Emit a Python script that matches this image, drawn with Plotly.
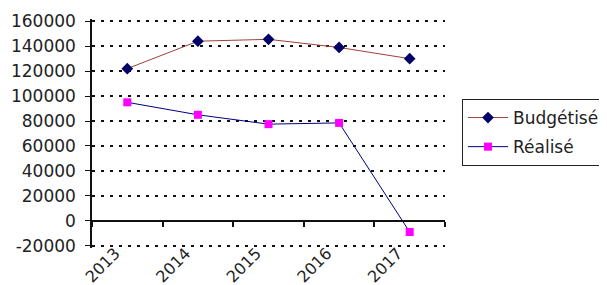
import plotly.graph_objects as go

years = ["2013", "2014", "2015", "2016", "2017"]
budgetise = [122000, 144000, 145500, 139000, 130000]
realise = [95000, 85000, 77500, 78500, -9000]
y_ticks = [-20000, 0, 20000, 40000, 60000, 80000, 100000, 120000, 140000, 160000]
y_tick_labels = [str(v) for v in y_ticks]

FONT = "DejaVu Sans"
W, H = 599, 277   # page body keeps an 8px margin, so the figure sits at (8, 8)
L, T, PW, PH = 84, 11, 353, 229

fig = go.Figure()
fig.add_trace(go.Scatter(
    x=years, y=budgetise, name="Budgétisé", mode="lines+markers",
    line=dict(color="#a0403a", width=1),
    marker=dict(symbol="diamond", size=9, color="#000066"),
    legendgroup="a"))
fig.add_trace(go.Scatter(
    x=years, y=realise, name="Réalisé", mode="lines+markers",
    line=dict(color="#000080", width=1),
    marker=dict(symbol="square", size=8, color="#ff00ff"),
    legendgroup="b"))
# helper trace so the zero-level category axis is drawn
fig.add_trace(go.Scatter(x=years, y=[None]*len(years), xaxis="x2",
                         showlegend=False, hoverinfo="skip", mode="lines"))

ymin, ymax = y_ticks[0], y_ticks[-1]
ypad = 1800
fig.update_layout(
    width=W, height=H,
    margin=dict(l=L, r=W - L - PW, t=T, b=H - T - PH, pad=0, autoexpand=False),
    paper_bgcolor="white", plot_bgcolor="white",
    font=dict(family=FONT, size=17, color="#222222"),
    showlegend=True,
    legend=dict(x=(454 - L) / PW, y=(H - (H - T - PH) - 91) / PH, xanchor="left", yanchor="top",
                bordercolor="#222222", borderwidth=1, font=dict(size=17),
                tracegroupgap=4, bgcolor="white", itemwidth=40),
    xaxis=dict(type="category", categoryarray=years, range=[-0.5, len(years) - 0.5],
               showline=False, ticks="",
               showgrid=False, tickangle=-45, zeroline=False, automargin=False,
               ticklabelstandoff=-8, ticklabelshift=-12, tickfont=dict(size=16)),
    xaxis2=dict(type="category", matches="x", overlaying="x", anchor="free",
                position=(0 - (ymin - ypad)) / (ymax - ymin + 2 * ypad), showline=True,
                linecolor="#111111", linewidth=2, ticks="outside", ticklen=5,
                tickcolor="#111111", tickwidth=1.5,
                tickson="boundaries", showticklabels=False, showgrid=False,
                zeroline=False),
    yaxis=dict(range=[ymin - ypad, ymax + ypad], tickvals=y_ticks, ticktext=y_tick_labels,
               showline=True, linecolor="#111111", linewidth=1.5, ticks="outside",
               ticklen=5, tickcolor="#111111", ticklabelstandoff=6,
               showgrid=True, gridcolor="#111111",
               griddash="3px,6px", gridwidth=2, zeroline=False, automargin=False),
)
fig.write_html("out.html")
